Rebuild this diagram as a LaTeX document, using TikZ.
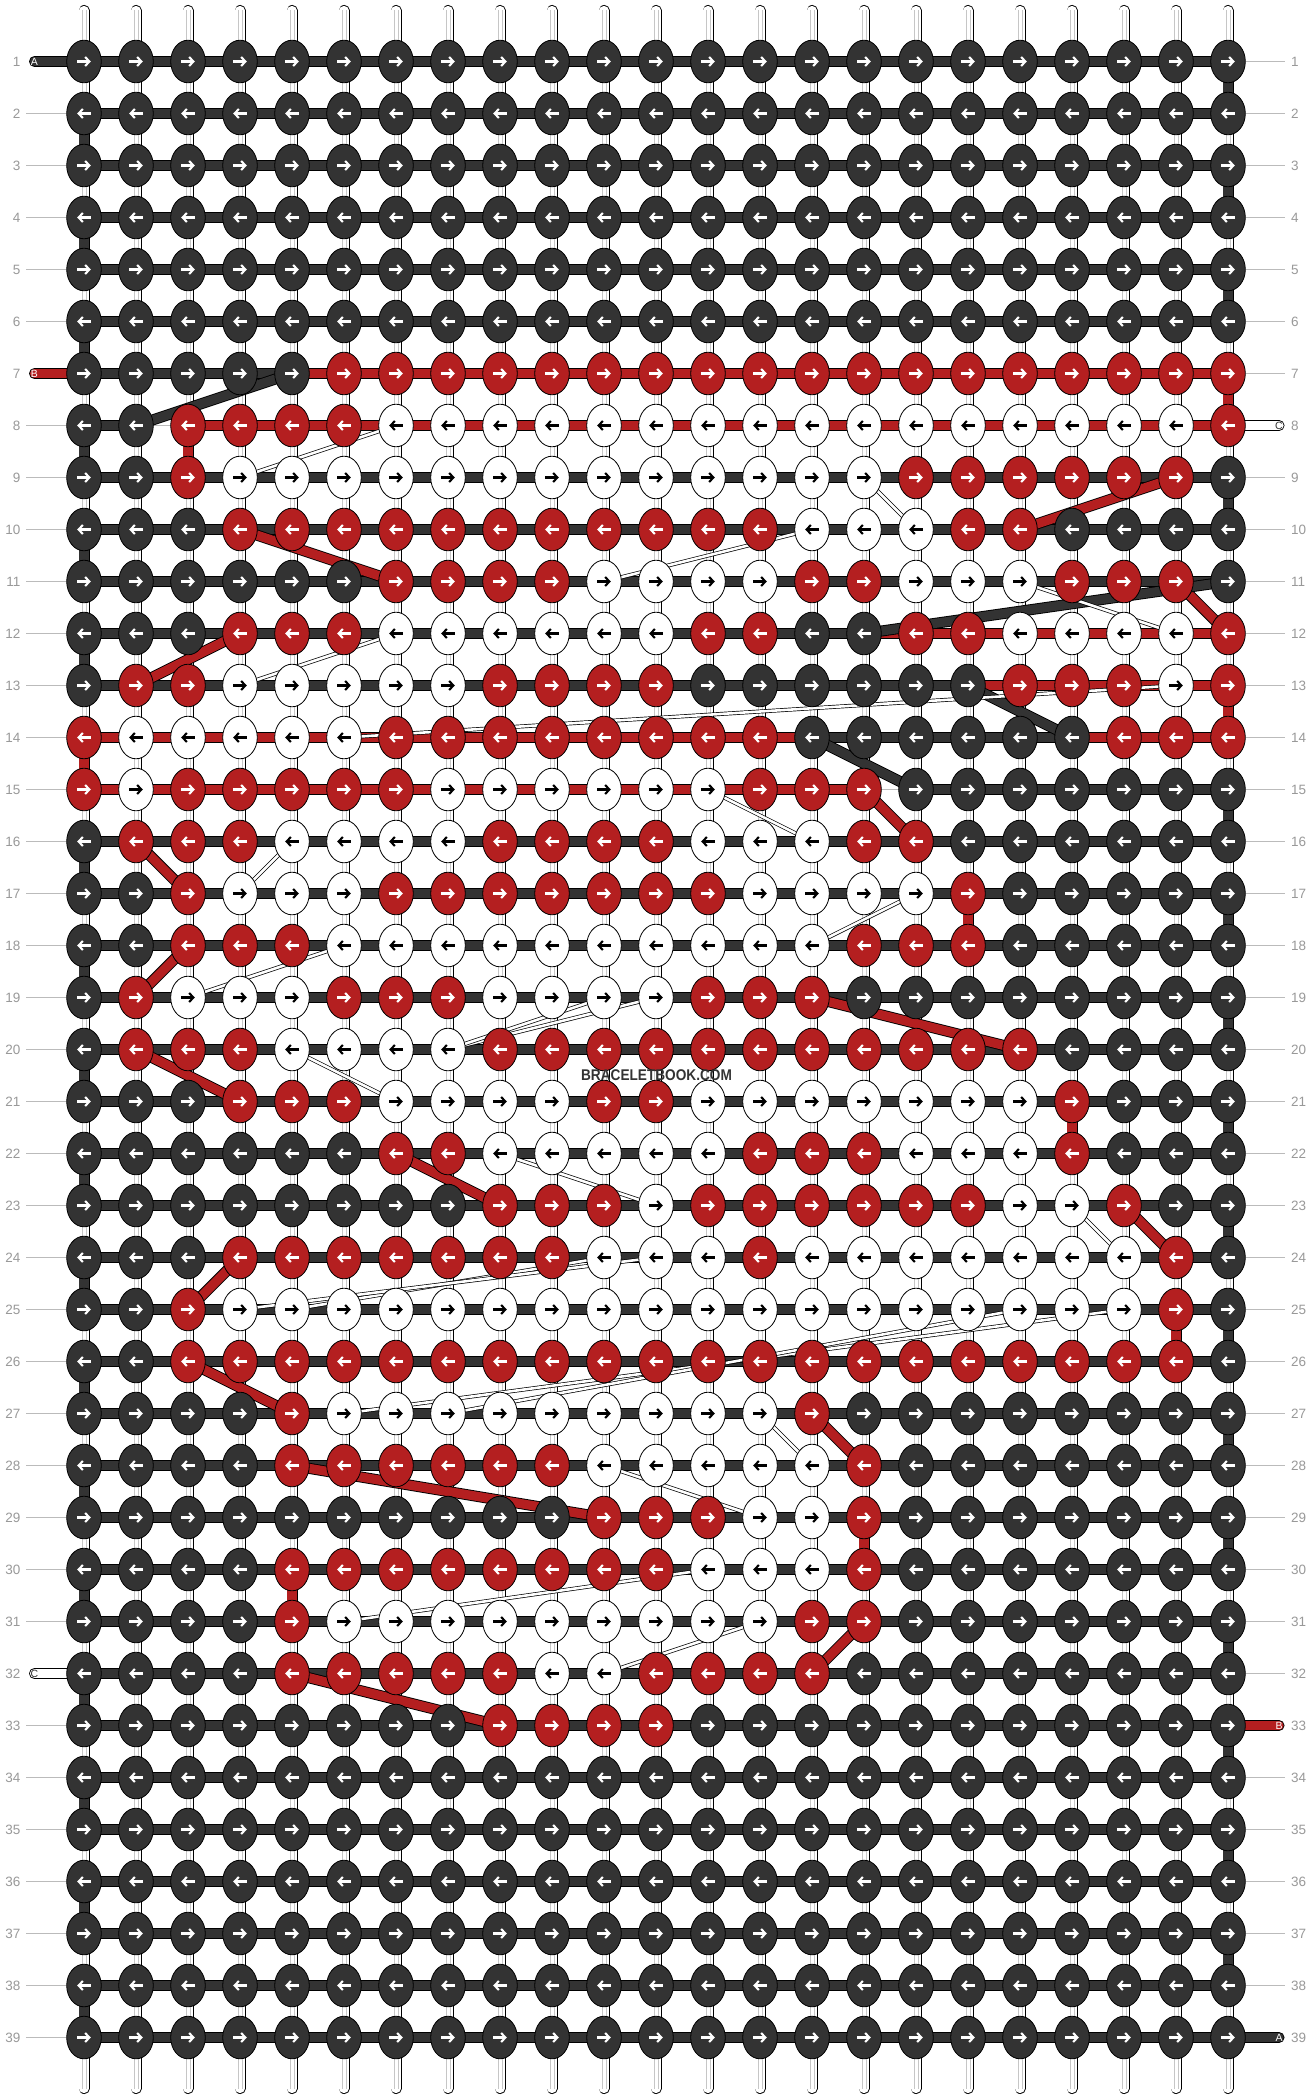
\documentclass[tikz,border=0pt]{standalone}
\usepackage{fontspec}
\setmainfont{Liberation Sans}
\usetikzlibrary{arrows.meta,shapes.geometric}
\definecolor{cD}{HTML}{333333}
\definecolor{cR}{HTML}{B41F20}
\definecolor{cW}{HTML}{FFFFFF}
\definecolor{aD}{HTML}{FFFFFF}
\definecolor{aR}{HTML}{FFFFFF}
\definecolor{aW}{HTML}{000000}
\definecolor{lbl}{HTML}{999999}
\definecolor{lline}{HTML}{BBBBBB}
\pgfdeclarelayer{bg}
\pgfsetlayers{bg,main}
\newcount\colidx
\newcommand\setrow[2]{\expandafter\def\csname krow#1\endcsname{#2}}
\newcommand\setseg[2]{\expandafter\def\csname srow#1\endcsname{#2}}
% knot colours, run-length per row (rows not listed are all dark)
\setrow{7}{5/D,18/R}
\setrow{8}{2/D,4/R,16/W,1/R}
\setrow{9}{2/D,1/R,13/W,6/R,1/D}
\setrow{10}{3/D,11/R,3/W,2/R,4/D}
\setrow{11}{6/D,4/R,4/W,2/R,3/W,3/R,1/D}
\setrow{12}{3/D,3/R,6/W,2/R,2/D,2/R,4/W,1/R}
\setrow{13}{1/D,2/R,5/W,4/R,6/D,3/R,1/W,1/R}
\setrow{14}{1/R,5/W,8/R,6/D,3/R}
\setrow{15}{1/R,1/W,5/R,6/W,3/R,7/D}
\setrow{16}{1/D,3/R,4/W,4/R,3/W,2/R,6/D}
\setrow{17}{2/D,1/R,3/W,7/R,4/W,1/R,5/D}
\setrow{18}{2/D,3/R,10/W,3/R,5/D}
\setrow{19}{1/D,1/R,3/W,3/R,4/W,3/R,8/D}
\setrow{20}{1/D,3/R,4/W,11/R,4/D}
\setrow{21}{3/D,3/R,4/W,2/R,7/W,1/R,3/D}
\setrow{22}{6/D,2/R,5/W,3/R,3/W,1/R,3/D}
\setrow{23}{8/D,3/R,1/W,6/R,2/W,1/R,2/D}
\setrow{24}{3/D,7/R,3/W,1/R,7/W,1/R,1/D}
\setrow{25}{2/D,1/R,18/W,1/R,1/D}
\setrow{26}{2/D,20/R,1/D}
\setrow{27}{4/D,1/R,9/W,1/R,8/D}
\setrow{28}{4/D,6/R,5/W,1/R,7/D}
\setrow{29}{10/D,3/R,2/W,1/R,7/D}
\setrow{30}{4/D,8/R,3/W,1/R,7/D}
\setrow{31}{4/D,1/R,9/W,2/R,7/D}
\setrow{32}{4/D,5/R,2/W,4/R,8/D}
\setrow{33}{8/D,4/R,11/D}
% horizontal thread segments (rows not listed are all dark)
\setseg{7}{4/D,18/R}
\setseg{8}{1/D,1/N,20/R}
\setseg{12}{15/D,7/R}
\setseg{13}{17/D,5/R}
\setseg{14}{14/R,5/D,3/R}
\setseg{15}{15/R,1/N,6/D}
\newcommand\knotat[3]{%
  \pgfmathsetmacro\xx{84+52*(#2-1)}%
  \pgfmathsetmacro\yy{61.5+52*(#1-1)}%
  \edef\tmp{\noexpand\node[knot,fill=c#3] (k-#1-#2) at (\xx,\yy) {};}\tmp
  \ifodd#1\relax
    \edef\tmp{\noexpand\draw[arr,a#3] ([xshift=-6.8pt]k-#1-#2.center) -- ([xshift=6.8pt]k-#1-#2.center);}\tmp
  \else
    \edef\tmp{\noexpand\draw[arr,a#3] ([xshift=6.8pt]k-#1-#2.center) -- ([xshift=-6.8pt]k-#1-#2.center);}\tmp
  \fi
}
\newcommand\segat[4]{%
  \edef\tmp{\noexpand\draw[s#4] (k-#1-#2.center) -- (k-#1-#3.center);}\tmp
}
\tikzset{
  knot/.style={ellipse, draw=black, line width=0.8pt, minimum width=34.6pt, minimum height=42.6pt, inner sep=0pt},
  arr/.style={line width=2.1pt, -{Straight Barb[length=4.2pt,width=9pt]}},
  sD/.style={draw=black, line width=0.9pt, double=cD, double distance=9.2pt},
  sR/.style={draw=black, line width=0.9pt, double=cR, double distance=9.2pt},
  sW/.style={draw=black, line width=0.9pt, double=white, double distance=9.2pt},
  sN/.style={draw=lline, line width=1pt},
  thinw/.style={draw=black, line width=0.7pt, double=white, double distance=2.6pt},
  vstr/.style={draw=black, line width=0.9pt, double=white, double distance=9.2pt, line cap=round},
  lab/.style={text=lbl, font=\fontsize{13.5}{13.5}\selectfont, inner sep=0pt},
  endlab/.style={font=\fontsize{10.5}{10.5}\selectfont, inner sep=0pt},
}
\begin{document}
\begin{tikzpicture}[x=1pt,y=-1pt]
\useasboundingbox (0,0) rectangle (1312,2100);
% ---------- knots ----------
\foreach \rr in {1,...,39}{%
  \ifcsname krow\rr\endcsname \edef\rowlist{\csname krow\rr\endcsname}\else \def\rowlist{23/D}\fi
  \global\colidx=0
  \foreach \nn/\kk in \rowlist {%
    \foreach \ii in {1,...,\nn}{%
      \global\advance\colidx by 1
      \edef\cc{\the\colidx}%
      \knotat{\rr}{\cc}{\kk}%
    }%
  }%
}
% ---------- row numbers ----------
\foreach \rr in {1,...,39}{%
  \pgfmathsetmacro\yy{61.5+52*(\rr-1)}
  \node[lab,anchor=east] (ln\rr) at (20.5,\yy) {\rr};
  \node[lab,anchor=west] (rn\rr) at (1291,\yy) {\rr};
}
% ---------- watermark ----------
\node[inner sep=0pt, text=cD, font=\fontsize{15.5}{15.5}\selectfont\bfseries] (wm) at (656.5,1075.5) {\scalebox{0.88}[1]{BRACELETBOOK.COM}};
\begin{pgfonlayer}{bg}
\fill[white] (0,0) rectangle (1312,2100);
% vertical strings
\foreach \cc in {1,...,23}{%
  \pgfmathsetmacro\xx{84+52*(\cc-1)}
  \coordinate (t\cc) at (\xx,10.5);
  \coordinate (b\cc) at (\xx,2088.5);
  \draw[vstr] (t\cc) -- (b\cc);
  \draw[gray!45, line width=0.6pt] ([xshift=-1.8pt]t\cc) -- ([xshift=-1.8pt]b\cc);
  \draw[gray!45, line width=0.6pt] ([xshift=1.8pt]t\cc) -- ([xshift=1.8pt]b\cc);
}
% coloured vertical pieces
\foreach \ra/\ca/\kk in {1/23/D,2/1/D,3/23/D,4/1/D,5/23/D,6/1/D,7/23/R,8/1/D,9/23/D,10/1/D,12/1/D,13/23/R,14/1/R,15/23/D,16/1/D,17/23/D,18/1/D,19/23/D,20/1/D,21/23/D,22/1/D,23/23/D,24/1/D,25/23/D,26/1/D,27/23/D,28/1/D,29/23/D,30/1/D,31/23/D,32/1/D,33/23/D,34/1/D,35/23/D,36/1/D,37/23/D,38/1/D,8/3/R,17/18/R,21/20/R,25/22/R,29/16/R,30/5/R}{%
  \pgfmathtruncatemacro\rb{\ra+1}
  \edef\tmp{\noexpand\draw[s\kk] (k-\ra-\ca.center) -- (k-\rb-\ca.center);}\tmp
}
% horizontal segments
\foreach \rr in {1,...,39}{%
  \ifcsname srow\rr\endcsname \edef\seglist{\csname srow\rr\endcsname}\else \def\seglist{22/D}\fi
  \global\colidx=0
  \foreach \nn/\kk in \seglist {%
    \foreach \ii in {1,...,\nn}{%
      \global\advance\colidx by 1
      \edef\cc{\the\colidx}%
      \pgfmathtruncatemacro\nx{\cc+1}%
      \segat{\rr}{\cc}{\nx}{\kk}%
    }%
  }%
}
% label lines
\foreach \rr in {1,...,39}{%
  \pgfmathsetmacro\yy{61.5+52*(\rr-1)}
  \coordinate (ll\rr) at (26,\yy);
  \coordinate (rl\rr) at (1285,\yy);
  \ifnum\rr=1 \else\ifnum\rr=7 \else\ifnum\rr=32 \else
    \draw[lline, line width=1pt] (ll\rr) -- (k-\rr-1.west);
  \fi\fi\fi
  \ifnum\rr=8 \else\ifnum\rr=33 \else\ifnum\rr=39 \else
    \draw[lline, line width=1pt] (k-\rr-23.east) -- (rl\rr);
  \fi\fi\fi
}
% thread ends
\coordinate (eA1) at (34.5,61.5);
\coordinate (eB1) at (34.5,373.5);
\coordinate (eC2) at (34.5,1673.5);
\coordinate (eC1) at (1279,425.5);
\coordinate (eB2) at (1279,1725.5);
\coordinate (eA2) at (1279,2037.5);
\draw[sD, line cap=round] (eA1) -- (k-1-1.center);
\draw[sR, line cap=round] (eB1) -- (k-7-1.center);
\draw[sW, line cap=round] (eC2) -- (k-32-1.center);
\draw[sW, line cap=round] (k-8-23.center) -- (eC1);
\draw[sR, line cap=round] (k-33-23.center) -- (eB2);
\draw[sD, line cap=round] (k-39-23.center) -- (eA2);
% jumping threads, thick
\foreach \ra/\ca/\rb/\cb in {9/22/10/19,10/4/11/7,11/22/12/23,12/4/13/2,15/16/16/17,16/2/17/3,18/3/19/2,19/15/20/19,20/2/21/4,22/7/23/9,23/21/24/22,24/4/25/3,26/3/27/5,27/15/28/16,28/5/29/11,31/16/32/15,32/5/33/9}{%
  \draw[sR] (k-\ra-\ca.center) -- (k-\rb-\cb.center);
}
\foreach \ra/\ca/\rb/\cb in {7/5/8/2,11/23/12/16,13/18/14/20,14/15/15/17}{%
  \draw[sD] (k-\ra-\ca.center) -- (k-\rb-\cb.center);
}
% jumping threads, thin (white)
\foreach \ra/\ca/\rb/\cb in {8/7/9/4,9/16/10/17,10/15/11/11,11/19/12/22,12/7/13/4,13/22/14/6,15/13/16/15,16/5/17/4,17/17/18/15,18/6/19/3,19/12/20/8,19/11/20/8,20/5/21/7,22/9/23/12,23/20/24/21,24/11/25/5,24/12/25/4,25/21/27/6,25/19/27/8,27/14/28/15,28/11/29/14,30/13/31/6,31/14/32/11}{%
  \draw[thinw] (k-\ra-\ca.center) -- (k-\rb-\cb.center);
}
\end{pgfonlayer}
% end labels
\node[endlab, text=white] (tA1) at (eA1) {A};
\node[endlab, text=white] (tB1) at (eB1) {B};
\node[endlab, text=cD] (tC2) at (eC2) {C};
\node[endlab, text=cD] (tC1) at (eC1) {C};
\node[endlab, text=white] (tB2) at (eB2) {B};
\node[endlab, text=white] (tA2) at (eA2) {A};
\end{tikzpicture}
\end{document}
